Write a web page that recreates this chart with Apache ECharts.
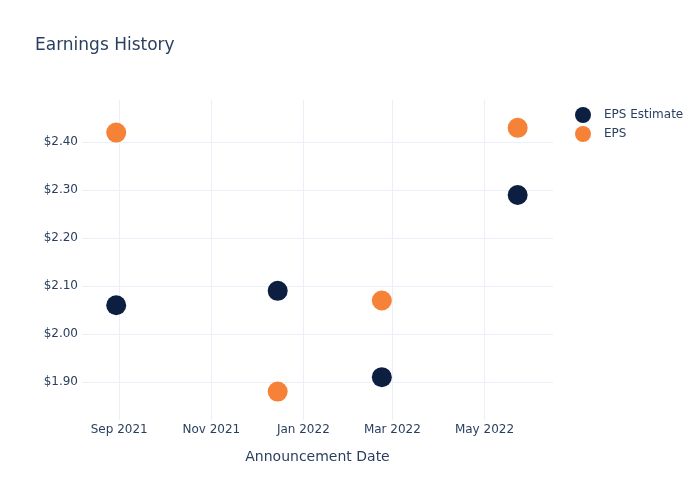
<!DOCTYPE html>
<html>
<head>
<meta charset="utf-8">
<script src="https://cdn.jsdelivr.net/npm/echarts@6/dist/echarts.min.js"></script>
<style>html,body{margin:0;padding:0;background:#fff}#c{width:700px;height:500px}</style>
</head>
<body>
<div id="c"></div>
<script>
const dates = ['2021-08-30', '2021-12-15', '2022-02-22', '2022-05-23'];
const epsEstimate = [2.06, 2.09, 1.91, 2.29];
const eps = [2.42, 1.88, 2.07, 2.43];
const seriesNames = ['EPS Estimate', 'EPS'];
const monthNames = ['Jan','Feb','Mar','Apr','May','Jun','Jul','Aug','Sep','Oct','Nov','Dec'];

const FONT = 'DejaVu Sans';
const TXT = '#2a3f5f';
const GRIDC = '#ebf0f8';

const chart = echarts.init(document.getElementById('c'), null, {renderer: 'canvas'});
chart.setOption({
  animation: false,
  backgroundColor: '#fff',
  textStyle: {fontFamily: FONT},
  title: {
    text: 'Earnings History',
    left: 35, top: 37, padding: 0,
    textStyle: {fontFamily: FONT, fontSize: 17, fontWeight: 'normal', color: TXT}
  },
  legend: {
    orient: 'vertical',
    left: 570, top: 102,
    icon: 'circle',
    itemWidth: 26, itemHeight: 16, itemGap: 3,
    textStyle: {fontFamily: FONT, fontSize: 12, color: TXT, padding: [0, 0, 0, 3]},
    data: seriesNames
  },
  grid: {left: 82, right: 147, top: 100, bottom: 80, containLabel: false},
  xAxis: {
    type: 'time',
    min: new Date(2021, 7, 7, 8).getTime(),
    max: new Date(2022, 5, 15, 10).getTime(),
    splitNumber: 5,
    name: 'Announcement Date',
    nameLocation: 'middle',
    nameGap: 30,
    nameTextStyle: {fontFamily: FONT, fontSize: 14, color: TXT},
    axisLine: {show: false},
    axisTick: {show: false},
    axisLabel: {
      fontFamily: FONT, fontSize: 12, color: TXT, margin: 4,
      showMinLabel: false, showMaxLabel: false,
      formatter: function (v) { const d = new Date(v); return monthNames[d.getMonth()] + ' ' + d.getFullYear(); }
    },
    splitLine: {show: true, showMinLine: false, showMaxLine: false, lineStyle: {color: GRIDC, width: 1}}
  },
  yAxis: {
    type: 'value',
    min: 1.8207,
    max: 2.488,
    splitNumber: 5,
    axisLine: {show: false},
    axisTick: {show: false},
    axisLabel: {
      fontFamily: FONT, fontSize: 12, color: TXT, margin: 4,
      showMinLabel: false, showMaxLabel: false,
      formatter: function (v) { return '$' + v.toFixed(2); }
    },
    splitLine: {show: true, showMinLine: false, showMaxLine: false, lineStyle: {color: GRIDC, width: 1}}
  },
  series: [
    {
      name: seriesNames[0], type: 'scatter', symbolSize: 20,
      itemStyle: {color: '#0c1f40', opacity: 1},
      data: dates.map((d, i) => [d, epsEstimate[i]])
    },
    {
      name: seriesNames[1], type: 'scatter', symbolSize: 20,
      itemStyle: {color: '#f68238', opacity: 1},
      data: dates.map((d, i) => [d, eps[i]])
    }
  ]
});
</script>
</body>
</html>
